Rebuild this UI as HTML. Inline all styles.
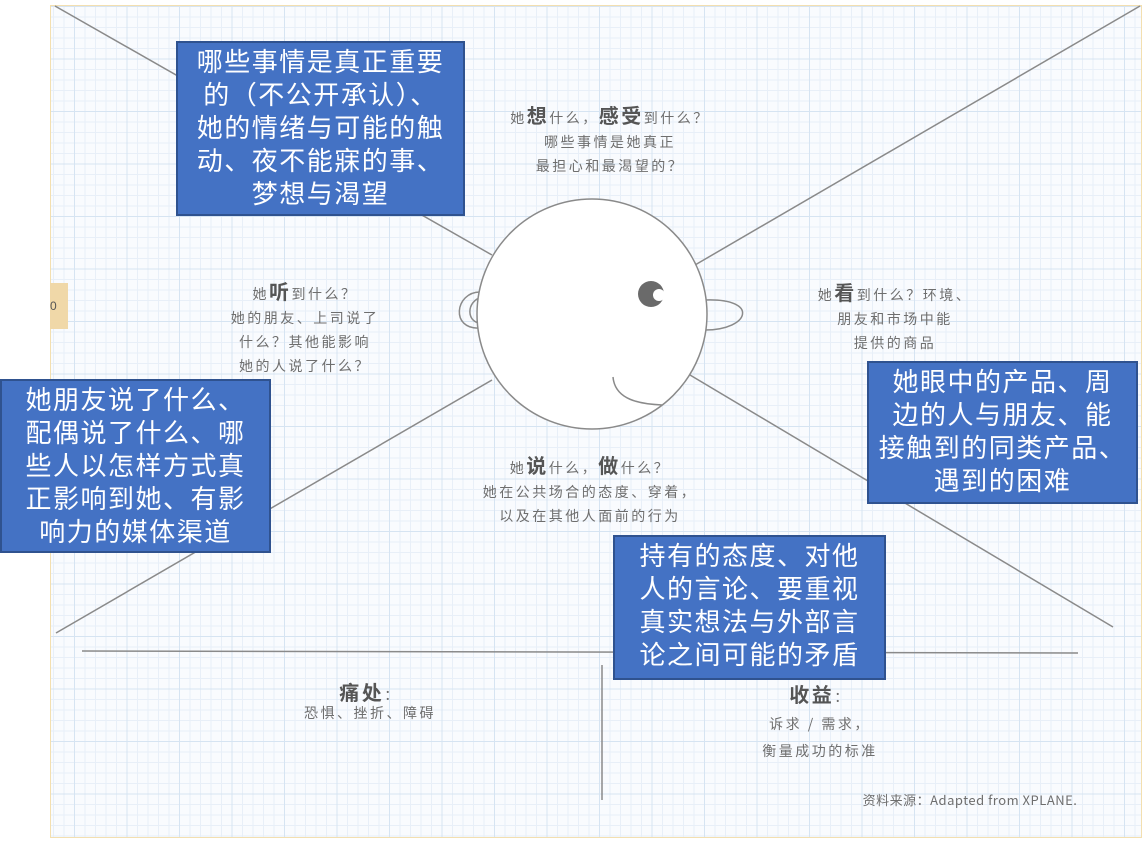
<!DOCTYPE html>
<html><head><meta charset="utf-8"><style>
body{margin:0;width:1146px;height:844px;position:relative;background:#fff;overflow:hidden;font-family:"Liberation Sans","Noto Sans CJK SC",sans-serif}
.paper{position:absolute;left:50px;top:5px;width:1090px;height:831px;border:1px solid #f3dfb0;
background-color:#f9fbfe;
background-image:linear-gradient(#d6e4f2 1px,transparent 1px),linear-gradient(90deg,#d6e4f2 1px,transparent 1px),linear-gradient(#e8eff8 1px,transparent 1px),linear-gradient(90deg,#e8eff8 1px,transparent 1px);
background-size:52.5px 52.5px,52.5px 52.5px,10.5px 10.5px,10.5px 10.5px;background-position:23px 0,23px 0,2px 0,2px 0}
.g{position:absolute;color:#6e6e6e;font-size:14px;letter-spacing:2.5px;text-align:center;line-height:24px;white-space:nowrap;font-family:"Noto Sans CJK SC",sans-serif}
.g b{font-size:20px;color:#555}
.box{position:absolute;background:#4472c4;border:2px solid #2f528f;color:#fff;font-size:26px;letter-spacing:1.5px;line-height:33px;text-align:center;box-sizing:border-box;padding-top:1px;font-family:"Noto Sans CJK SC",sans-serif;white-space:nowrap}
</style></head><body>
<div class="paper"></div>
<div style="position:absolute;left:50px;top:283px;width:18px;height:46px;background:#f0d8a8;font-size:12px;color:#555;line-height:46px">0</div>
<svg width="1146" height="844" style="position:absolute;left:0;top:0">
<g stroke="#8a8a8a" stroke-width="1.5" fill="none">
<line x1="55" y1="6" x2="492" y2="255"/>
<line x1="56" y1="633" x2="492" y2="380"/>
<line x1="1140" y1="6" x2="695" y2="265"/>
<line x1="1113" y1="627" x2="690" y2="375"/>
<line x1="82" y1="651" x2="1078" y2="653"/>
<line x1="602" y1="665" x2="602" y2="800"/>
<path d="M480 292 C455 292 450 330 480 328" />
<path d="M483 297 C465 300 466 325 483 323" />
<path d="M705 300 C760 298 750 330 705 330" />
</g>
<circle cx="592" cy="314" r="115" fill="#fff" stroke="#8a8a8a" stroke-width="1.5"/>
<path d="M613 377 C615 400 640 404 662 405" stroke="#8a8a8a" stroke-width="1.5" fill="none"/>
<circle cx="651" cy="294" r="13" fill="#6a6a6a"/>
<circle cx="659" cy="295" r="6" fill="#fff"/>
</svg>
<div class="g" style="left:480px;top:103px;width:260px">她<b>想</b>什么，<b>感受</b>到什么？<br>哪些事情是她真正<br>最担心和最渴望的？</div>
<div class="g" style="left:210px;top:279px;width:190px">她<b>听</b>到什么？<br>她的朋友、上司说了<br>什么？其他能影响<br>她的人说了什么？</div>
<div class="g" style="left:790px;top:280px;width:210px">她<b>看</b>到什么？环境、<br>朋友和市场中能<br>提供的商品</div>
<div class="g" style="left:460px;top:453px;width:260px">她<b>说</b>什么，<b>做</b>什么？<br>她在公共场合的态度、穿着，<br>以及在其他人面前的行为</div>
<div class="g" style="left:270px;top:680px;width:200px"><b>痛处</b>：<br><span style="position:relative;top:-6px">恐惧、挫折、障碍</span></div>
<div class="g" style="left:720px;top:680px;width:200px;line-height:27px"><b>收益</b>：<br>诉求 / 需求，<br>衡量成功的标准</div>
<div class="g" style="left:835px;top:788px;width:270px;font-size:13px;letter-spacing:0.5px">资料来源：Adapted from XPLANE.</div>
<div class="box" style="left:176px;top:41px;width:289px;height:175px">哪些事情是真正重要<br>的（不公开承认）、<br>她的情绪与可能的触<br>动、夜不能寐的事、<br>梦想与渴望</div>
<div class="box" style="left:0px;top:379px;width:271px;height:174px">她朋友说了什么、<br>配偶说了什么、哪<br>些人以怎样方式真<br>正影响到她、有影<br>响力的媒体渠道</div>
<div class="box" style="left:867px;top:361px;width:271px;height:143px">她眼中的产品、周<br>边的人与朋友、能<br>接触到的同类产品、<br>遇到的困难</div>
<div class="box" style="left:613px;top:535px;width:273px;height:145px">持有的态度、对他<br>人的言论、要重视<br>真实想法与外部言<br>论之间可能的矛盾</div>
</body></html>
